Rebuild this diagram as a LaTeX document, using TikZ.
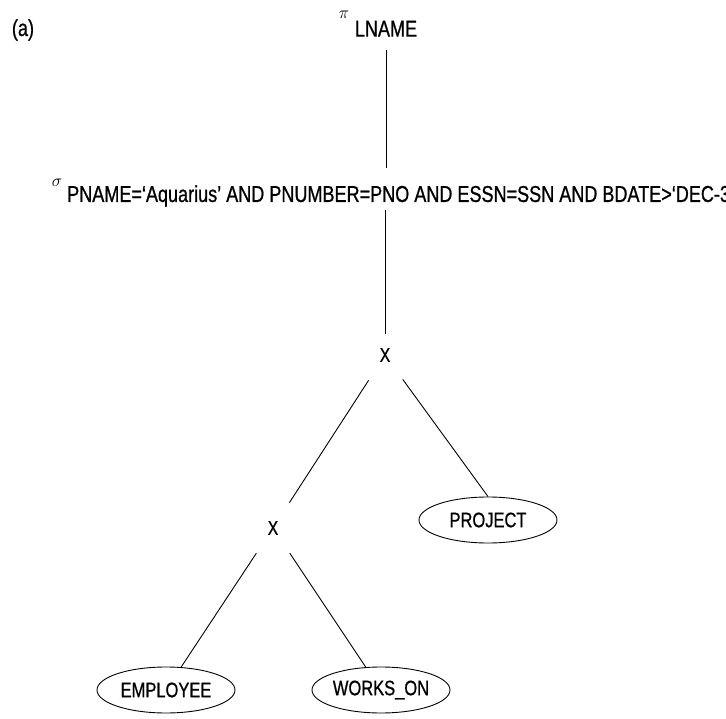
\documentclass[tikz,border=0pt]{standalone}
\usepackage{fontspec}
\setmainfont{Liberation Sans}[FakeStretch=0.785, FakeBold=0.8]
\usepackage{tikz}
\usetikzlibrary{shapes}
\usetikzlibrary{positioning}

\tikzset{
  optext/.style={font=\fontsize{23}{23}\selectfont, inner sep=0pt},
  opsym/.style={font=\fontsize{17}{17}\selectfont, inner sep=0pt},
  crossop/.style={circle, minimum size=60pt, inner sep=0pt, font=\fontsize{20}{20}\selectfont},
  relation/.style={draw, ellipse, line width=0.9pt, minimum width=138pt, minimum height=46pt, inner sep=0pt, font=\fontsize{21}{21}\selectfont},
  treeedge/.style={line width=0.9pt}
}

\begin{document}
\begin{tikzpicture}[x=1pt, y=-1pt]
          \useasboundingbox (0,0) rectangle (726,719);
          \clip (0,0) rectangle (726,719);
          \node[font=\fontsize{23}{23}\selectfont, inner sep=0pt] (tag) at (23,30) {(a)};
          \node[optext, inner ysep=13pt] (proj) at (386,28.7) {LNAME};
          \node[opsym] (pisym) at (344,15) {$\pi$};
          \node[optext, anchor=west, inner xsep=0pt, inner ysep=3pt] (sel) at (67,196)
            {PNAME=`Aquarius' AND PNUMBER=PNO AND ESSN=SSN AND BDATE>`DEC-31-1957'};
          \node[opsym] (sigsym) at (57,183) {$\sigma$};
          \node[crossop] (crossa) at (385,355) {X};
          \node[crossop] (crossb) at (273,528) {X};
          \node[relation] (project) at (488,520) {PROJECT};
          \node[relation] (employee) at (166,690) {EMPLOYEE};
          \node[relation] (workson) at (381,690) {WORKS\_ON};
          \draw[treeedge, shorten >=14pt] (proj) -- (proj |- sel.north);
          \draw[treeedge, shorten >=-9pt] (sel.south -| crossa) -- (crossa);
          \draw[treeedge] (crossa) -- (crossb);
          \draw[treeedge] (crossa) -- (project.north);
          \draw[treeedge] (crossb) -- (employee);
          \draw[treeedge] (crossb) -- (workson);
        \end{tikzpicture}
\end{document}
